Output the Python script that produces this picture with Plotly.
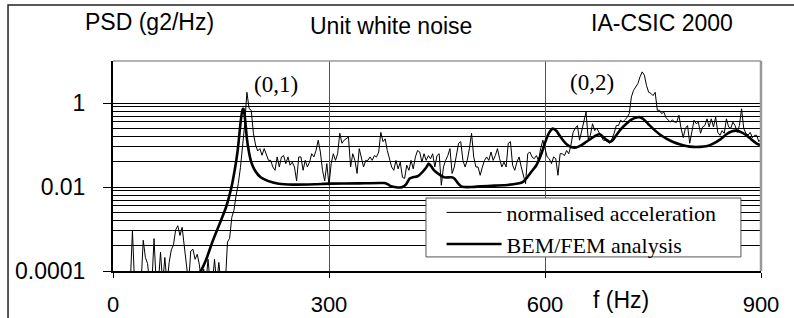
import plotly.graph_objects as go

# ---------------- data ----------------
freq_step = 3
accel_freq = list(range(0, 901, freq_step))
accel_psd = [
    5e-5, 5e-5, 5e-5, 5e-5, 5e-5, 5e-5, 5e-5, 5e-5, 5e-5, 9e-4,          # 0-27
    5e-5, 5e-5, 5e-5, 5e-5, 5.4e-4, 2.1e-4, 1.5e-4, 5e-5, 5e-5, 5.9e-4,  # 30-57
    5e-5, 5e-5, 2.8e-4, 5e-5, 2.1e-4, 5e-5, 1.6e-4, 3.2e-4, 4.2e-4, 9.5e-4,  # 60-87
    1.2e-3, 7e-4, 1.1e-3, 4.2e-4, 1.2e-4, 5e-5, 3e-4, 3.3e-4, 1.9e-4, 2.5e-4,  # 90-117
    1.4e-4, 5e-5, 1.1e-4, 5e-5, 1.9e-4, 5e-5, 5e-5, 1.9e-4, 5e-5, 1.6e-4,  # 120-147
    5e-5, 5e-5, 5e-5, 4.9e-4, 6e-4, 1.9e-3, 2.8e-3, 6.3e-3, 0.012, 0.029,  # 150-177
    0.1, 0.32, 1.8, 0.74, 0.67, 0.19, 0.1, 0.072, 0.082, 0.057,          # 180-207
    0.082, 0.062, 0.043, 0.043, 0.030, 0.025, 0.052, 0.030, 0.052, 0.056,  # 210-237
    0.036, 0.052, 0.033, 0.039, 0.030, 0.014, 0.052, 0.052, 0.025, 0.043,  # 240-267
    0.030, 0.039, 0.062, 0.052, 0.074, 0.13, 0.068, 0.025, 0.014, 0.036,   # 270-297
    0.011, 0.036, 0.062, 0.043, 0.062, 0.19, 0.11, 0.13, 0.14, 0.155,      # 300-327
    0.030, 0.062, 0.043, 0.021, 0.082, 0.047, 0.030, 0.043, 0.043, 0.052,  # 330-357
    0.043, 0.056, 0.052, 0.068, 0.2, 0.12, 0.14, 0.074, 0.043, 0.030,      # 360-387
    0.025, 0.043, 0.027, 0.039, 0.017, 0.016, 0.033, 0.025, 0.043, 0.027,  # 390-417
    0.052, 0.074, 0.068, 0.039, 0.062, 0.043, 0.056, 0.047, 0.062, 0.030,  # 420-447
    0.056, 0.062, 0.011, 0.030, 0.043, 0.056, 0.082, 0.021, 0.030, 0.062,  # 450-477
    0.11, 0.12, 0.043, 0.030, 0.043, 0.082, 0.19, 0.052, 0.030, 0.030,     # 480-507
    0.019, 0.030, 0.043, 0.052, 0.043, 0.068, 0.043, 0.056, 0.082, 0.047,  # 510-537
    0.030, 0.039, 0.030, 0.11, 0.12, 0.033, 0.025, 0.039, 0.052, 0.030,    # 540-567
    0.019, 0.012, 0.062, 0.068, 0.052, 0.047, 0.056, 0.043, 0.082, 0.13,   # 570-597
    0.082, 0.052, 0.047, 0.036, 0.052, 0.047, 0.019, 0.062, 0.062, 0.056,  # 600-627
    0.074, 0.062, 0.098, 0.2, 0.25, 0.29, 0.13, 0.22, 0.32, 0.61,         # 630-657
    0.14, 0.17, 0.32, 0.22, 0.25, 0.2, 0.17, 0.13, 0.13, 0.12,            # 660-687
    0.11, 0.14, 0.19, 0.29, 0.29, 0.39, 0.35, 0.4, 0.45, 0.56,            # 690-717
    1.4, 2.0, 2.4, 2.9, 4.2, 5.5, 4.6, 2.6, 1.8, 1.7,                     # 720-747
    1.5, 1.8, 0.67, 0.67, 0.56, 0.61, 0.45, 0.39, 0.35, 0.4,              # 750-777
    0.35, 0.35, 0.51, 0.25, 0.15, 0.25, 0.29, 0.11, 0.22, 0.39,           # 780-807
    0.32, 0.35, 0.19, 0.27, 0.29, 0.42, 0.27, 0.42, 0.27, 0.46,           # 810-837
    0.2, 0.17, 0.22, 0.19, 0.42, 0.27, 0.25, 0.35, 0.29, 0.2,             # 840-867
    0.29, 0.73, 0.25, 0.19, 0.17, 0.2, 0.15, 0.17, 0.17, 0.12,            # 870-897
    0.14,                                                                 # 900
]

bem_freq = [100, 122, 129, 138, 147, 157, 164, 169, 173, 176, 178, 180, 181, 182, 184,
            186, 189, 192, 197, 205, 215, 230, 250, 280, 300, 340, 377, 382, 386,
            391, 398, 402, 407, 412, 416, 423, 430, 435, 438.5, 442, 446, 453, 460,
            470, 474, 479, 483.5, 488, 497, 511, 530, 548, 562, 569, 574, 581, 588,
            595, 599, 602, 606, 611, 616, 620, 625, 630, 636, 643, 650, 657, 664,
            671, 676, 680, 685, 690, 694, 699, 706, 713, 720, 727, 731.5, 736, 743,
            750, 759, 768.6, 778, 787, 796, 806, 815, 824, 833.6, 843, 852, 859,
            866, 873, 880, 887, 894, 900]
bem_psd = [3e-5, 1e-4, 1.8e-4, 4.9e-4, 1.2e-3, 3.3e-3, 9e-3, 0.025, 0.07, 0.22, 0.45, 0.7, 0.73, 0.66, 0.33,
           0.14, 0.065, 0.039, 0.025, 0.017, 0.014, 0.012, 0.0114, 0.0116, 0.012, 0.0122, 0.0124, 0.0116, 0.0104,
           0.01, 0.0097, 0.01, 0.0116, 0.016, 0.017, 0.018, 0.023, 0.029, 0.036, 0.031, 0.025, 0.020, 0.017,
           0.017, 0.016, 0.0124, 0.0104, 0.01, 0.01, 0.0104, 0.0108, 0.0112, 0.0121, 0.013, 0.016, 0.023, 0.033,
           0.062, 0.1, 0.14, 0.2, 0.245, 0.215, 0.17, 0.13, 0.104, 0.09, 0.087, 0.098, 0.118, 0.142,
           0.17, 0.18, 0.16, 0.134, 0.118, 0.13, 0.17, 0.245, 0.32, 0.40, 0.45, 0.46, 0.42, 0.32,
           0.245, 0.18, 0.142, 0.118, 0.104, 0.095, 0.09, 0.09, 0.093, 0.108, 0.134, 0.18, 0.21,
           0.22, 0.2, 0.17, 0.134, 0.108, 0.098]

x_ticks = [0, 300, 600, 900]
y_major = [1e-4, 1e-2, 1]
y_major_text = ["0.0001", "0.01", "1"]
y_minor = [1e-4 * k * k for k in range(2, 10)] + [1e-2 * k * k for k in range(2, 10)]

SANS = "Liberation Sans, Arial, sans-serif"
SERIF = "Liberation Serif, Times New Roman, serif"

fig = go.Figure()
fig.add_trace(go.Scatter(x=accel_freq, y=accel_psd, mode="lines",
                         name="normalised acceleration",
                         line=dict(color="black", width=1)))
fig.add_trace(go.Scatter(x=bem_freq, y=bem_psd, mode="lines",
                         name="BEM/FEM analysis",
                         line=dict(color="black", width=2.6, shape="spline", smoothing=0.6)))

fig.update_layout(
    template="none",
    width=794, height=318,
    margin=dict(l=113, r=33, t=61, b=47, autoexpand=False),
    paper_bgcolor="white", plot_bgcolor="white",
    font=dict(family=SANS, size=23, color="black"),
    showlegend=True,
    legend=dict(x=0.507, y=0.378, xanchor="left", yanchor="top",
                bgcolor="rgba(0,0,0,0)", borderwidth=0,
                font=dict(family=SERIF, size=22, color="black"),
                itemwidth=55, tracegroupgap=0),
    xaxis=dict(range=[0, 900], tickvals=x_ticks, ticks="outside", ticklen=5,
               tickcolor="black", tickwidth=1, automargin=False,
               showgrid=True, gridcolor="#555555", gridwidth=1,
               showline=True, linecolor="black", linewidth=1.5, zeroline=False,
               tickfont=dict(family=SANS, size=22), ticklabelstandoff=8),
    yaxis=dict(type="log", range=[-4, 1], tickvals=y_major, ticktext=y_major_text,
               ticks="outside", ticklen=8, tickcolor="black", tickwidth=1, automargin=False,
               showgrid=True, gridcolor="black", gridwidth=1,
               minor=dict(tickvals=y_minor, showgrid=True, gridcolor="black",
                          gridwidth=1, ticks=""),
               showline=True, linecolor="black", linewidth=2, zeroline=False,
               tickfont=dict(family=SANS, size=23), ticklabelstandoff=13),
)

# plot-area border (top & right, grey), legend box and outer frame
fig.add_shape(type="line", xref="paper", yref="paper", x0=0, x1=1, y0=1, y1=1,
              line=dict(color="#999999", width=1.5))
fig.add_shape(type="line", xref="paper", yref="paper", x0=1, x1=1, y0=0, y1=1,
              line=dict(color="#999999", width=2.5))
fig.add_shape(type="rect", xref="paper", yref="paper", x0=0.483, x1=0.969, y0=0.067, y1=0.3476,
              line=dict(color="#555555", width=1), fillcolor="white", layer="above")
fig.add_shape(type="rect", xref="paper", yref="paper", x0=-0.162, x1=1.3, y0=-0.6, y1=1.267,
              line=dict(color="#222222", width=1.5), fillcolor="rgba(0,0,0,0)")

ann = dict(showarrow=False, xref="paper", yref="paper", xanchor="center", yanchor="middle")
fig.add_annotation(text="PSD (g2/Hz)", x=0.0556, y=1.184, font=dict(family=SANS, size=23), **ann)
fig.add_annotation(text="Unit white noise", x=0.429, y=1.165, font=dict(family=SANS, size=23), **ann)
fig.add_annotation(text="IA-CSIC 2000", x=0.847, y=1.18, font=dict(family=SANS, size=23), **ann)
fig.add_annotation(text="f (Hz)", x=0.784, y=-0.138, font=dict(family=SANS, size=23), **ann)
fig.add_annotation(text="(0,1)", x=0.252, y=0.89, font=dict(family=SERIF, size=23), **ann)
fig.add_annotation(text="(0,2)", x=0.739, y=0.90, font=dict(family=SERIF, size=23), **ann)

fig.write_html("out.html", config={"displayModeBar": False},
               post_script="document.body.style.margin='0';document.body.style.overflow='hidden';")
